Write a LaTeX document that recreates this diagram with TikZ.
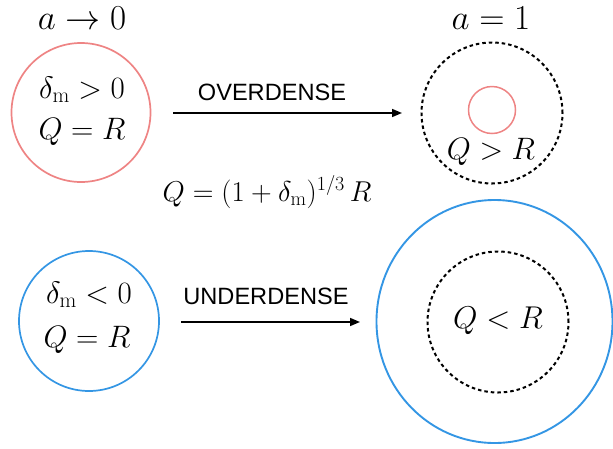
\RequirePackage{fix-cm}
\documentclass[tikz,border=0pt]{standalone}
\usepackage{fontspec}
\newfontfamily\arialf{Liberation Sans}
\usetikzlibrary{arrows.meta,shapes.geometric}
\definecolor{redc}{RGB}{238,132,132}
\definecolor{bluec}{RGB}{52,150,228}
\tikzset{
  ring/.style={circle, inner sep=0pt, line width=1.7pt},
  dashring/.style={circle, inner sep=0pt, draw=black, line width=2pt, dash pattern=on 3.5pt off 3pt},
  hdr/.style={anchor=base, inner sep=0pt, font=\fontsize{35}{36}\selectfont},
  lbl/.style={anchor=base, inner sep=0pt, font=\fontsize{31}{31}\selectfont},
  word/.style={anchor=base, inner sep=0pt, font=\arialf\fontsize{23.6}{24}\selectfont},
  arr/.style={line width=1.6pt, -{Triangle[length=10pt,width=8pt]}}
}
\begin{document}
\begin{tikzpicture}[x=1pt,y=-1pt]
\useasboundingbox (0,0) rectangle (613,448);
% headers
\node[hdr] (h1) at (82,29) {$a\to 0$};
\node[hdr] (h2) at (491,29) {$a=1$};
% top-left red circle
\node[ring, draw=redc, minimum size=139pt] (c1) at (81,112.5) {};
\node[lbl] (t1a) at (82,98) {$\delta_{\mathrm{m}}>0$};
\node[lbl] (t1b) at (82,139) {$Q=R$};
% top arrow
\coordinate (a1s) at (173,113);
\coordinate (a1e) at (402,113);
\draw[arr] (a1s) -- (a1e);
\node[word] (w1) at (272,100) {OVERDENSE};
% top-right
\node[dashring, minimum size=141pt] (d1) at (492,113) {};
\node[ring, draw=redc, minimum size=47pt, line width=1.5pt] (c2) at (492,110) {};
\node[lbl] (t2) at (491,159) {$Q>R$};
% formula
\node[anchor=base, inner sep=0pt, font=\fontsize{28.7}{29}\selectfont] (f) at (267,201) {$Q=(1+\delta_{\mathrm{m}})^{1/3}\,R$};
% bottom-left blue circle
\node[ring, draw=bluec, minimum size=140pt] (c3) at (89,321) {};
\node[lbl] (t3a) at (89,303) {$\delta_{\mathrm{m}}<0$};
\node[lbl] (t3b) at (87,347) {$Q=R$};
% bottom arrow
\coordinate (a2s) at (181,322);
\coordinate (a2e) at (360,322);
\draw[arr] (a2s) -- (a2e);
\node[word] (w2) at (266,304) {UNDERDENSE};
% bottom-right
\node[ellipse, inner sep=0pt, draw=bluec, line width=1.9pt, minimum width=236pt, minimum height=243pt] (c4) at (494.5,321.5) {};
\node[dashring, minimum size=141pt] (d2) at (498,322) {};
\node[lbl, font=\fontsize{31.5}{32}\selectfont] (t4) at (498,328) {$Q<R$};
\end{tikzpicture}
\end{document}
